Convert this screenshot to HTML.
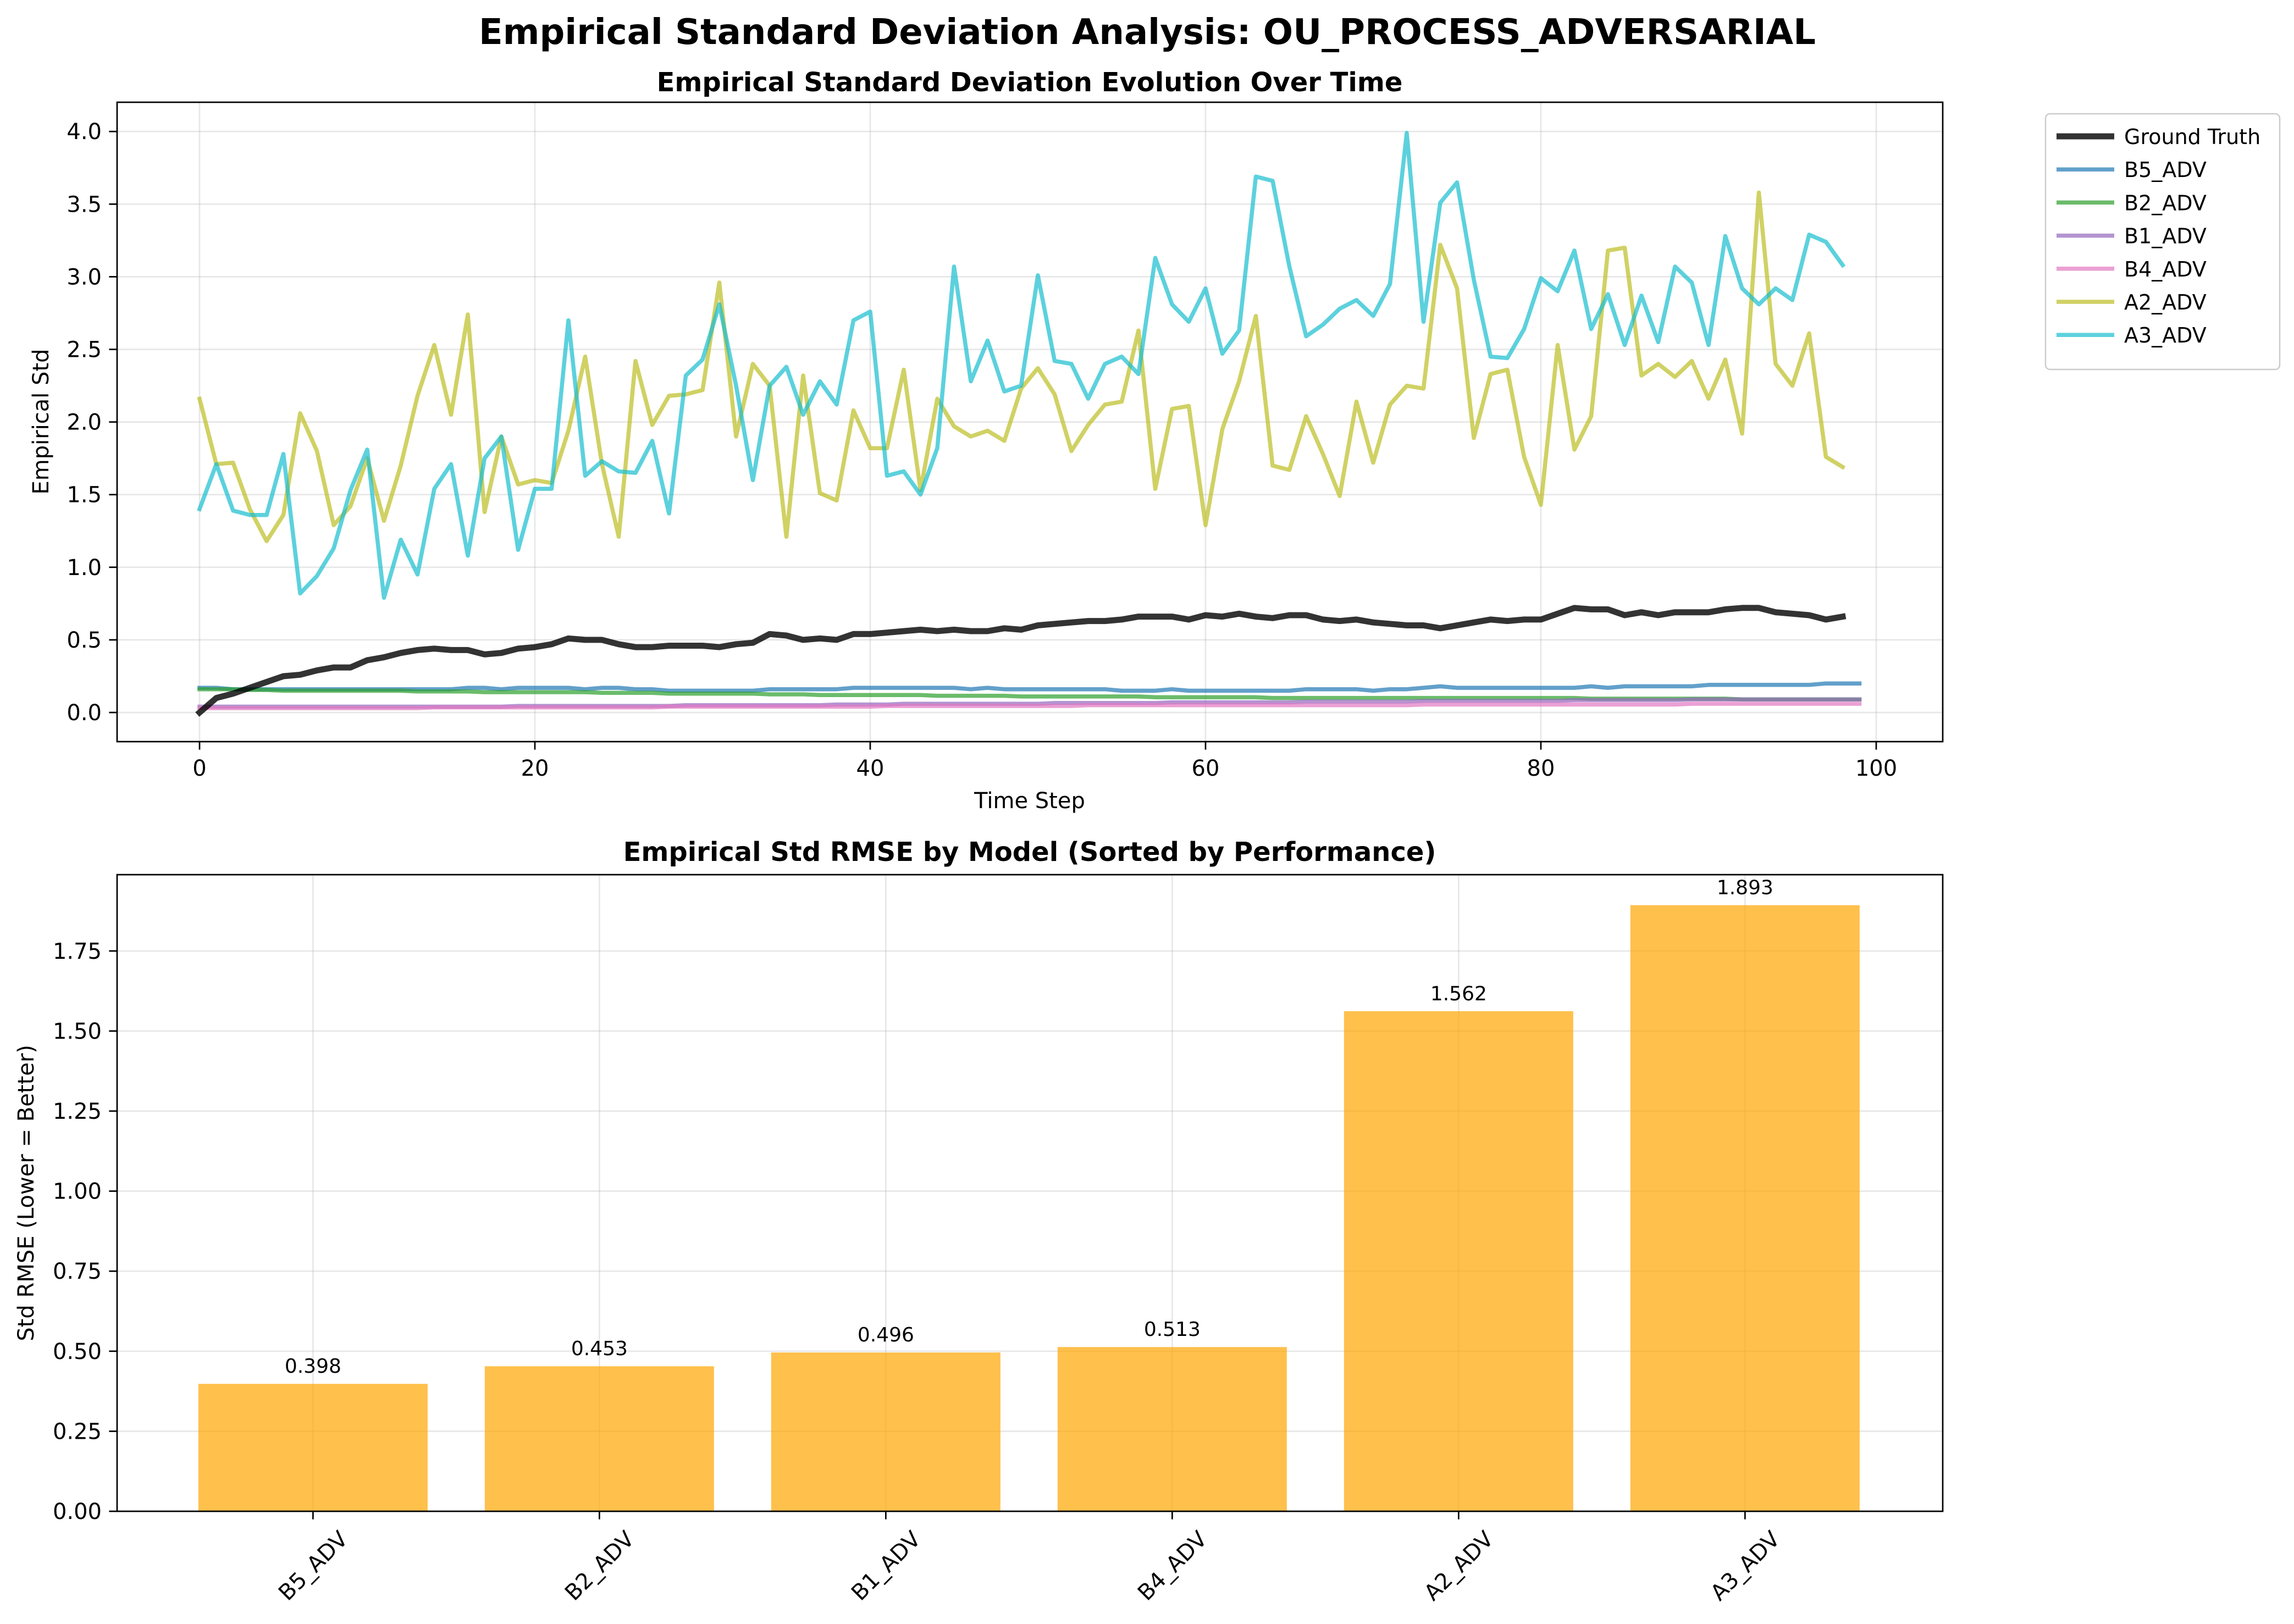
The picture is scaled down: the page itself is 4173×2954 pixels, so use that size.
<!DOCTYPE html>
<html><head><meta charset="utf-8"><style>
html,body{margin:0;padding:0;background:#fff;}
svg{display:block;font-family:"DejaVu Sans","Liberation Sans",sans-serif;}
</style></head><body>
<svg id="fig" width="4173" height="2954" viewBox="0 0 4173 2954" xmlns="http://www.w3.org/2000/svg">
<rect width="4173" height="2954" fill="#fff"/>
<text x="2087" y="80" font-size="64" font-weight="bold" text-anchor="middle">Empirical Standard Deviation Analysis: OU_PROCESS_ADVERSARIAL</text>
<text x="1873" y="166" font-size="48" font-weight="bold" text-anchor="middle">Empirical Standard Deviation Evolution Over Time</text>
<text x="1873" y="1566" font-size="48" font-weight="bold" text-anchor="middle">Empirical Std RMSE by Model (Sorted by Performance)</text>
<text x="1873" y="1470" font-size="40" text-anchor="middle">Time Step</text>
<text x="0" y="0" font-size="40" text-anchor="middle" transform="translate(88,767) rotate(-90)">Empirical Std</text>
<text x="0" y="0" font-size="40" text-anchor="middle" transform="translate(61,2170) rotate(-90)">Std RMSE (Lower = Better)</text>
<g id="topplot"></g>
<g id="botplot"></g>
<g id="legend"></g>
</svg>
<script>
const steps = [0,1,2,3,4,5,6,7,8,9,10,11,12,13,14,15,16,17,18,19,20,21,22,23,24,25,26,27,28,29,30,31,32,33,34,35,36,37,38,39,40,41,42,43,44,45,46,47,48,49,50,51,52,53,54,55,56,57,58,59,60,61,62,63,64,65,66,67,68,69,70,71,72,73,74,75,76,77,78,79,80,81,82,83,84,85,86,87,88,89,90,91,92,93,94,95,96,97,98,99];
const gtValues = [0,0.10,0.13,0.17,0.21,0.25,0.26,0.29,0.31,0.31,0.36,0.38,0.41,0.43,0.44,0.43,0.43,0.40,0.41,0.44,0.45,0.47,0.51,0.50,0.50,0.47,0.45,0.45,0.46,0.46,0.46,0.45,0.47,0.48,0.54,0.53,0.50,0.51,0.50,0.54,0.54,0.55,0.56,0.57,0.56,0.57,0.56,0.56,0.58,0.57,0.60,0.61,0.62,0.63,0.63,0.64,0.66,0.66,0.66,0.64,0.67,0.66,0.68,0.66,0.65,0.67,0.67,0.64,0.63,0.64,0.62,0.61,0.60,0.60,0.58,0.60,0.62,0.64,0.63,0.64,0.64,0.68,0.72,0.71,0.71,0.67,0.69,0.67,0.69,0.69,0.69,0.71,0.72,0.72,0.69,0.68,0.67,0.64,0.66];
const a2Values = [2.16,1.71,1.72,1.40,1.18,1.36,2.06,1.80,1.29,1.42,1.75,1.32,1.70,2.18,2.53,2.05,2.74,1.38,1.90,1.57,1.60,1.58,1.94,2.45,1.71,1.21,2.42,1.98,2.18,2.19,2.22,2.96,1.90,2.40,2.25,1.21,2.32,1.51,1.46,2.08,1.82,1.82,2.36,1.53,2.16,1.97,1.90,1.94,1.87,2.23,2.37,2.19,1.80,1.98,2.12,2.14,2.63,1.54,2.09,2.11,1.29,1.95,2.28,2.73,1.70,1.67,2.04,1.78,1.49,2.14,1.72,2.12,2.25,2.23,3.22,2.92,1.89,2.33,2.36,1.76,1.43,2.53,1.81,2.04,3.18,3.20,2.32,2.40,2.31,2.42,2.16,2.43,1.92,3.58,2.40,2.25,2.61,1.76,1.69];
const a3Values = [1.40,1.71,1.39,1.36,1.36,1.78,0.82,0.94,1.13,1.53,1.81,0.79,1.19,0.95,1.54,1.71,1.08,1.75,1.90,1.12,1.54,1.54,2.70,1.63,1.73,1.66,1.65,1.87,1.37,2.32,2.43,2.81,2.25,1.60,2.25,2.38,2.05,2.28,2.12,2.70,2.76,1.63,1.66,1.50,1.82,3.07,2.28,2.56,2.21,2.25,3.01,2.42,2.40,2.16,2.40,2.45,2.33,3.13,2.81,2.69,2.92,2.47,2.63,3.69,3.66,3.07,2.59,2.67,2.78,2.84,2.73,2.95,3.99,2.69,3.51,3.65,2.98,2.45,2.44,2.64,2.99,2.90,3.18,2.64,2.88,2.53,2.87,2.55,3.07,2.96,2.53,3.28,2.92,2.81,2.92,2.84,3.29,3.24,3.08];
const b5Values = [0.17,0.17,0.16,0.16,0.16,0.16,0.16,0.16,0.16,0.16,0.16,0.16,0.16,0.16,0.16,0.16,0.17,0.17,0.16,0.17,0.17,0.17,0.17,0.16,0.17,0.17,0.16,0.16,0.15,0.15,0.15,0.15,0.15,0.15,0.16,0.16,0.16,0.16,0.16,0.17,0.17,0.17,0.17,0.17,0.17,0.17,0.16,0.17,0.16,0.16,0.16,0.16,0.16,0.16,0.16,0.15,0.15,0.15,0.16,0.15,0.15,0.15,0.15,0.15,0.15,0.15,0.16,0.16,0.16,0.16,0.15,0.16,0.16,0.17,0.18,0.17,0.17,0.17,0.17,0.17,0.17,0.17,0.17,0.18,0.17,0.18,0.18,0.18,0.18,0.18,0.19,0.19,0.19,0.19,0.19,0.19,0.19,0.20,0.20,0.20];
const b2Values = [0.16,0.16,0.16,0.155,0.155,0.15,0.15,0.15,0.15,0.15,0.15,0.15,0.15,0.145,0.145,0.145,0.145,0.14,0.14,0.14,0.14,0.14,0.14,0.14,0.135,0.135,0.135,0.135,0.13,0.13,0.13,0.13,0.13,0.13,0.125,0.125,0.125,0.12,0.12,0.12,0.12,0.12,0.12,0.12,0.115,0.115,0.115,0.115,0.115,0.11,0.11,0.11,0.11,0.11,0.11,0.11,0.11,0.105,0.105,0.105,0.105,0.105,0.105,0.105,0.10,0.10,0.10,0.10,0.10,0.10,0.10,0.10,0.10,0.10,0.10,0.10,0.10,0.10,0.10,0.10,0.10,0.10,0.10,0.095,0.095,0.095,0.095,0.095,0.095,0.095,0.095,0.095,0.09,0.09,0.09,0.09,0.09,0.09,0.09,0.09];
const b1Values = [0.04,0.04,0.04,0.04,0.04,0.04,0.04,0.04,0.04,0.04,0.04,0.04,0.04,0.04,0.04,0.04,0.04,0.04,0.04,0.045,0.045,0.045,0.045,0.045,0.045,0.045,0.045,0.045,0.045,0.05,0.05,0.05,0.05,0.05,0.05,0.05,0.05,0.05,0.055,0.055,0.055,0.055,0.06,0.06,0.06,0.06,0.06,0.06,0.06,0.06,0.06,0.065,0.065,0.065,0.065,0.065,0.065,0.065,0.07,0.07,0.07,0.07,0.07,0.07,0.07,0.07,0.075,0.075,0.075,0.075,0.075,0.075,0.075,0.08,0.08,0.08,0.08,0.08,0.08,0.08,0.08,0.08,0.085,0.085,0.085,0.085,0.085,0.085,0.085,0.09,0.09,0.09,0.09,0.09,0.09,0.09,0.09,0.09,0.09,0.09];
const b4Values = [0.03,0.03,0.03,0.03,0.03,0.03,0.03,0.03,0.03,0.03,0.03,0.03,0.03,0.03,0.035,0.035,0.035,0.035,0.035,0.035,0.035,0.035,0.035,0.035,0.035,0.035,0.035,0.035,0.04,0.04,0.04,0.04,0.04,0.04,0.04,0.04,0.04,0.04,0.04,0.04,0.04,0.045,0.045,0.045,0.045,0.045,0.045,0.045,0.045,0.045,0.045,0.045,0.045,0.05,0.05,0.05,0.05,0.05,0.05,0.05,0.05,0.05,0.05,0.05,0.05,0.05,0.05,0.05,0.05,0.05,0.05,0.05,0.05,0.055,0.055,0.055,0.055,0.055,0.055,0.055,0.055,0.055,0.055,0.055,0.055,0.055,0.055,0.055,0.055,0.06,0.06,0.06,0.06,0.06,0.06,0.06,0.06,0.06,0.06,0.06];
const xTicks = [0,20,40,60,80,100];
const yTicks = [0,0.5,1.0,1.5,2.0,2.5,3.0,3.5,4.0];
const yTickLabels = ["0.0","0.5","1.0","1.5","2.0","2.5","3.0","3.5","4.0"];
const models = ["B5_ADV","B2_ADV","B1_ADV","B4_ADV","A2_ADV","A3_ADV"];
const rmseValues = [0.398,0.453,0.496,0.513,1.562,1.893];
const rmseLabels = ["0.398","0.453","0.496","0.513","1.562","1.893"];
const barYTicks = [0,0.25,0.5,0.75,1.0,1.25,1.5,1.75];
const barYTickLabels = ["0.00","0.25","0.50","0.75","1.00","1.25","1.50","1.75"];

const NS = "http://www.w3.org/2000/svg";
function mk(parent, tag, attrs, text) {
  const e = document.createElementNS(NS, tag);
  for (const k in attrs) e.setAttribute(k, attrs[k]);
  if (text !== undefined) e.textContent = text;
  parent.appendChild(e);
  return e;
}
const TK = 14.6;
const T = {l:213, r:3534, t:186, b:1349};
const tx = v => 363 + v * 30.5;
const ty = v => 1296 - v * 264.2;
const topG = document.getElementById('topplot');
xTicks.forEach(v => {
  const g = mk(topG, 'line', {x1:tx(v), x2:tx(v), y1:T.t, y2:T.b, stroke:'#b0b0b0', 'stroke-opacity':0.3, 'stroke-width':2.7});
  
  
  mk(topG, 'line', {x1:tx(v), x2:tx(v), y1:T.b, y2:T.b+TK, stroke:'#000', 'stroke-width':2.7});
  const t = mk(topG, 'text', {x:tx(v), y:T.b+62, 'font-size':40, 'text-anchor':'middle'}, String(v));
  
  
});
yTicks.forEach((v, i) => {
  const g = mk(topG, 'line', {x1:T.l, x2:T.r, y1:ty(v), y2:ty(v), stroke:'#b0b0b0', 'stroke-opacity':0.3, 'stroke-width':2.7});
  
  
  mk(topG, 'line', {x1:T.l-TK, x2:T.l, y1:ty(v), y2:ty(v), stroke:'#000', 'stroke-width':2.7});
  const t = mk(topG, 'text', {x:T.l-28, y:ty(v)+14, 'font-size':40, 'text-anchor':'end'}, yTickLabels[i]);
  
  
});
const series = [
  {name:'Ground Truth', vals:gtValues, color:'#000', op:0.8, w:11, dn:'ground-truth-line'},
  {name:'B5_ADV', vals:b5Values, color:'#1f77b4', op:0.7, w:7.5, dn:'b5-adv-line'},
  {name:'B2_ADV', vals:b2Values, color:'#2ca02c', op:0.7, w:7.5, dn:'b2-adv-line'},
  {name:'B1_ADV', vals:b1Values, color:'#9467bd', op:0.7, w:7.5, dn:'b1-adv-line'},
  {name:'B4_ADV', vals:b4Values, color:'#e377c2', op:0.7, w:7.5, dn:'b4-adv-line'},
  {name:'A2_ADV', vals:a2Values, color:'#bcbd22', op:0.7, w:7.5, dn:'a2-adv-line'},
  {name:'A3_ADV', vals:a3Values, color:'#17becf', op:0.7, w:7.5, dn:'a3-adv-line'}
];
const drawOrder = [1,2,3,4,5,6,0];
drawOrder.forEach(si => {
  const s = series[si];
  const pts = s.vals.map((v, i) => tx(steps[i]).toFixed(1) + ',' + ty(v).toFixed(1)).join(' ');
  const p = mk(topG, 'polyline', {points:pts, fill:'none', stroke:s.color, 'stroke-opacity':s.op, 'stroke-width':s.w, 'stroke-linejoin':'round', 'stroke-linecap':'square'});
  
  
});
mk(topG, 'rect', {x:T.l, y:T.t, width:T.r-T.l, height:T.b-T.t, fill:'none', stroke:'#000', 'stroke-width':2.7});

const lg = document.getElementById('legend');
mk(lg, 'rect', {x:3721, y:207, width:426, height:465, rx:8, fill:'#fff', stroke:'#ccc', 'stroke-width':2.5});
series.forEach((s, i) => {
  const y = 248 + i * 60.2;
  const g = mk(lg, 'g', {});
  
  
  mk(g, 'line', {x1:3741, x2:3846, y1:y, y2:y, stroke:s.color, 'stroke-opacity':s.op, 'stroke-width':s.w});
  mk(g, 'text', {x:3864, y:y+14, 'font-size':38}, s.name);
});

const B = {l:213, r:3534, t:1591, b:2749};
const bx = i => 213 + (i + 0.684) * 521;
const by = v => 2749 - v * 582.4;
const botG = document.getElementById('botplot');
models.forEach((m, i) => {
  const g = mk(botG, 'line', {x1:bx(i), x2:bx(i), y1:B.t, y2:B.b, stroke:'#b0b0b0', 'stroke-opacity':0.3, 'stroke-width':2.7});
  
  
});
barYTicks.forEach((v, i) => {
  const g = mk(botG, 'line', {x1:B.l, x2:B.r, y1:by(v), y2:by(v), stroke:'#b0b0b0', 'stroke-opacity':0.3, 'stroke-width':2.7});
  
  
  mk(botG, 'line', {x1:B.l-TK, x2:B.l, y1:by(v), y2:by(v), stroke:'#000', 'stroke-width':2.7});
  const t = mk(botG, 'text', {x:B.l-28, y:by(v)+14, 'font-size':40, 'text-anchor':'end'}, barYTickLabels[i]);
  
  
});
models.forEach((m, i) => {
  const w = 417;
  const r = mk(botG, 'rect', {x:bx(i)-w/2, y:by(rmseValues[i]), width:w, height:by(0)-by(rmseValues[i]), fill:'#ffa500', 'fill-opacity':0.7});
  
  
  const vl = mk(botG, 'text', {x:bx(i), y:by(rmseValues[i])-20, 'font-size':36, 'text-anchor':'middle'}, rmseLabels[i]);
  
  
  mk(botG, 'line', {x1:bx(i), x2:bx(i), y1:B.b, y2:B.b+TK, stroke:'#000', 'stroke-width':2.7});
  const t = mk(botG, 'text', {x:0, y:14, 'font-size':40, 'text-anchor':'middle', transform:'translate(' + bx(i) + ',' + (B.b+99) + ') rotate(-45)'}, m);
  
  
});
mk(botG, 'rect', {x:B.l, y:B.t, width:B.r-B.l, height:B.b-B.t, fill:'none', stroke:'#000', 'stroke-width':2.7});
</script>
</body></html>
